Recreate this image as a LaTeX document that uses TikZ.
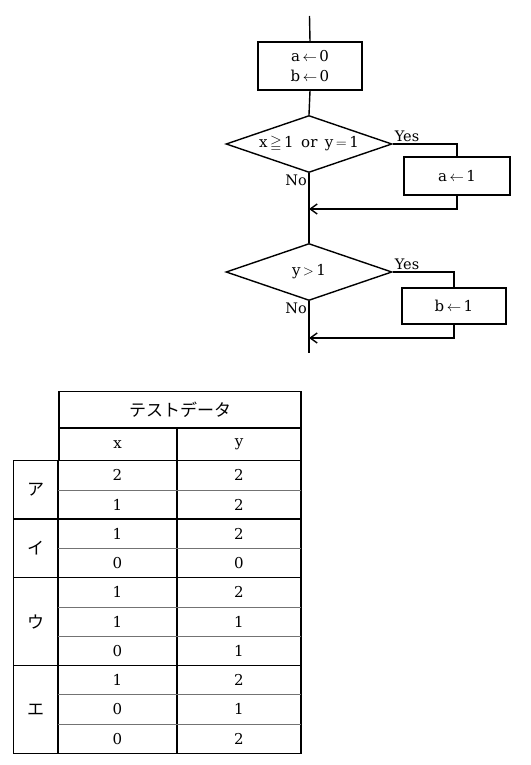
\documentclass[tikz,border=0pt]{standalone}
\usepackage{amssymb}
\usepackage{fontspec}
\setmainfont{DejaVu Serif}
\newfontfamily\jpfont{Noto Sans CJK JP}
\usetikzlibrary{arrows.meta,shapes.geometric,positioning}
\tikzstyle{flowline} = [line width=1.4pt]
\tikzstyle{arrow} = [line width=1.4pt,-{Straight Barb[length=7pt,width=10pt]}]
\tikzstyle{procbox} = [rectangle, draw, line width=1.4pt, minimum width=104pt, minimum height=48pt, align=center, font=\fontsize{15}{20}\selectfont]
\tikzstyle{decision} = [diamond, draw, line width=1.4pt, aspect=2.9, inner sep=0pt, minimum width=166pt, minimum height=57pt, font=\fontsize{15}{20}\selectfont]
\tikzstyle{branchlabel} = [inner sep=2pt, font=\fontsize{14.5}{18}\selectfont]
\tikzstyle{cell} = [font=\fontsize{15}{18}\selectfont]
\tikzstyle{jpcell} = [font=\jpfont\fontsize{17}{20}\selectfont]
\tikzstyle{thickrule} = [line width=1.5pt]
\tikzstyle{thinrule} = [line width=1pt, black!55]

\begin{document}
\begin{tikzpicture}[x=1pt, y=-1pt]
    \useasboundingbox (0,0) rectangle (530,765);

    % Flowchart
    \coordinate (start) at (309.5,16);
    \node[procbox] (init) at (310,66) {a\,$\leftarrow$\,0\\b\,$\leftarrow$\,0};
    \node[decision] (cond1) at (309,144) {x\,$\geqq$\,1\enspace or\enspace y\,$=$\,1};
    \node[procbox, minimum width=106pt, minimum height=38pt] (seta) at (457,176) {a\,$\leftarrow$\,1};
    \coordinate (join1) at (309,209);
    \node[decision] (cond2) at (309,272) {y\,$>$\,1};
    \node[procbox, minimum height=36pt] (setb) at (454,306) {b\,$\leftarrow$\,1};
    \coordinate (join2) at (309,338);
    \coordinate (stop) at (309,353);

    % Lines
    \draw[flowline] (start) -- (init.north);
    \draw[flowline] (init.south) -- (cond1.north);
    \draw[flowline] (cond1.south) -- (cond2.north);
    \draw[flowline] (cond2.south) -- (stop);
    \draw[flowline] (cond1.east) -| (seta.north);
    \draw[arrow] (seta.south) |- (join1);
    \draw[flowline] (cond2.east) -| (setb.north);
    \draw[arrow] (setb.south) |- (join2);

    % Branch labels
    \node[branchlabel, above right] (yes1) at (cond1.east) {Yes};
    \node[branchlabel, below left] (no1) at (cond1.south) {No};
    \node[branchlabel, above right] (yes2) at (cond2.east) {Yes};
    \node[branchlabel, below left] (no2) at (cond2.south) {No};

    % Table rules
    \draw[thickrule] (59,391.7) rectangle (301,460.7);
    \draw[thickrule] (59,428) -- (301,428);
    \draw[thickrule] (13.5,460.7) rectangle (301,753.3);
    \draw[thickrule] (58,460.7) -- (58,753.3);
    \draw[thickrule] (177,428) -- (177,753.3);
    \draw[thickrule] (13.5,519.2) -- (301,519.2);
    \draw[thickrule] (13.5,577.7) -- (301,577.7);
    \draw[thickrule] (13.5,665.5) -- (301,665.5);
    \draw[thinrule] (58,490) -- (301,490);
    \draw[thinrule] (58,548.5) -- (301,548.5);
    \draw[thinrule] (58,607) -- (301,607);
    \draw[thinrule] (58,636.3) -- (301,636.3);
    \draw[thinrule] (58,694.8) -- (301,694.8);
    \draw[thinrule] (58,724) -- (301,724);

    % Table header
    \node[jpcell] (title) at (180,410) {テストデータ};
    \node[cell] (headx) at (117.5,444.3) {x};
    \node[cell] (heady) at (239,444.3) {y};

    % Group labels
    \node[jpcell] (ga) at (35.7,490) {ア};
    \node[jpcell] (gi) at (35.7,548.5) {イ};
    \node[jpcell] (gu) at (35.7,621.6) {ウ};
    \node[jpcell] (ge) at (35.7,709.4) {エ};

    % Test data
    \node[cell] (x1) at (117.5,475.3) {2};  \node[cell] (y1) at (239,475.3) {2};
    \node[cell] (x2) at (117.5,504.6) {1};  \node[cell] (y2) at (239,504.6) {2};
    \node[cell] (x3) at (117.5,533.9) {1};  \node[cell] (y3) at (239,533.9) {2};
    \node[cell] (x4) at (117.5,563.1) {0};  \node[cell] (y4) at (239,563.1) {0};
    \node[cell] (x5) at (117.5,592.4) {1};  \node[cell] (y5) at (239,592.4) {2};
    \node[cell] (x6) at (117.5,621.6) {1};  \node[cell] (y6) at (239,621.6) {1};
    \node[cell] (x7) at (117.5,650.9) {0};  \node[cell] (y7) at (239,650.9) {1};
    \node[cell] (x8) at (117.5,680.2) {1};  \node[cell] (y8) at (239,680.2) {2};
    \node[cell] (x9) at (117.5,709.4) {0};  \node[cell] (y9) at (239,709.4) {1};
    \node[cell] (x10) at (117.5,738.7) {0}; \node[cell] (y10) at (239,738.7) {2};
\end{tikzpicture}
\end{document}
